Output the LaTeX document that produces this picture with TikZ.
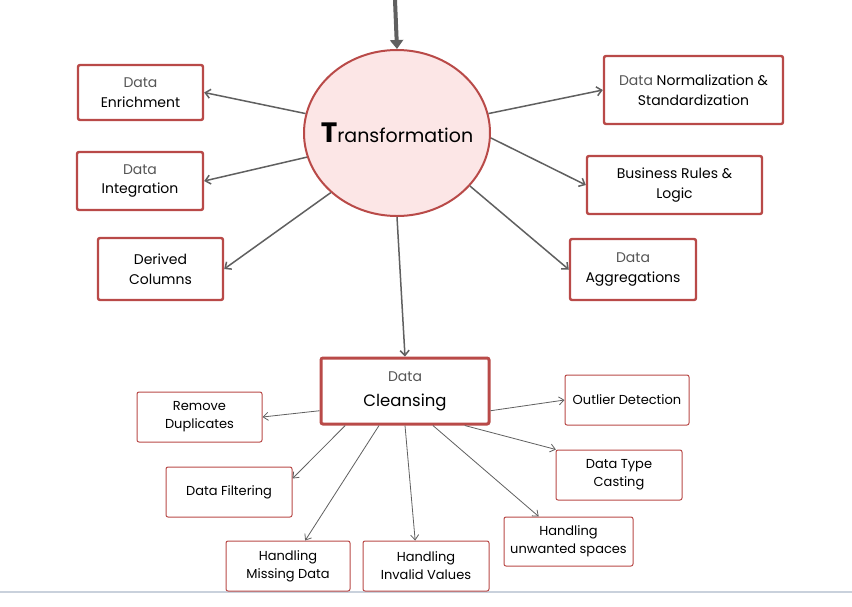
\documentclass[tikz,border=0pt]{standalone}
\usepackage{fontspec}
\setmainfont{Poppins}
\usetikzlibrary{arrows.meta,shapes.geometric}
\definecolor{boxred}{HTML}{B94A48}
\definecolor{arrgray}{HTML}{606060}
\definecolor{datagray}{HTML}{555555}
\definecolor{circfill}{HTML}{FCE6E6}
\definecolor{lineblue}{HTML}{C9D1DC}
\newcommand{\lightdata}[1]{{\color{datagray}#1}}
\tikzset{
  bigbox/.style={draw=boxred, line width=2.4pt, rounded corners=2pt, fill=white, align=center, inner sep=0pt, text=black, font=\fontsize{14}{19.5}\selectfont},
  smallbox/.style={draw=boxred, line width=1pt, rounded corners=2pt, fill=white, align=center, inner sep=0pt, text=black, font=\fontsize{13}{18}\selectfont},
  conn/.style={draw=arrgray, line width=1.5pt, -{Straight Barb[length=5pt,width=9pt]}},
  thinconn/.style={draw=arrgray, line width=0.8pt, -{Straight Barb[length=5pt,width=8pt]}},
}
\begin{document}
\begin{tikzpicture}[x=1pt,y=-1pt]
\useasboundingbox (0,0) rectangle (852,606);
\fill[white] (0,0) rectangle (852,606);
\draw[draw=lineblue, line width=1.5pt] (0,592) -- (852,592);

% central circle
\node[ellipse, draw=boxred, line width=2pt, fill=circfill, minimum width=186pt, minimum height=166pt, inner sep=0pt] (circ) at (397,133) {};
\node[inner sep=0pt, text=black] (circtext) at (circ.center)
  {\fontsize{19}{22}\selectfont{\fontsize{28}{28}\selectfont\bfseries T}ransformation};
\coordinate (top) at (395,0);
\draw[draw=arrgray, line width=4pt, -{Triangle[length=9pt,width=13pt]}] (top) -- (circ.north);

% left boxes
\node[bigbox, minimum width=125pt, minimum height=55pt] (enrich) at (140.5,92.5) {\lightdata{Data}\\Enrichment};
\node[bigbox, minimum width=126pt, minimum height=58pt] (integ) at (140,181) {\lightdata{Data}\\Integration};
\node[bigbox, minimum width=125pt, minimum height=62pt] (derived) at (160.5,269) {Derived\\Columns};

% right boxes
\node[bigbox, minimum width=179pt, minimum height=68pt] (norm) at (693.5,90) {\lightdata{Data} Normalization \&\\Standardization};
\node[bigbox, minimum width=175pt, minimum height=58pt] (business) at (674.5,185) {Business Rules \&\\Logic};
\node[bigbox, minimum width=126pt, minimum height=61pt] (agg) at (633,269.5) {\lightdata{Data}\\Aggregations};

% cleansing
\node[bigbox, line width=3pt, minimum width=168pt, minimum height=66pt, font=\fontsize{14}{25}\selectfont] (clean) at (405,391) {\lightdata{Data}\\{\fontsize{16.5}{20}\selectfont Cleansing}};

% small boxes
\node[smallbox, minimum width=125pt, minimum height=50pt] (dup) at (199.5,417) {Remove\\Duplicates};
\node[smallbox, minimum width=126pt, minimum height=50pt] (filter) at (229,492) {Data Filtering};
\node[smallbox, minimum width=124pt, minimum height=50pt] (missing) at (288,566) {Handling\\Missing Data};
\node[smallbox, minimum width=126pt, minimum height=50pt] (invalid) at (426,566) {Handling\\Invalid Values};
\node[smallbox, minimum width=129pt, minimum height=49pt] (spaces) at (568.5,541.5) {Handling\\unwanted spaces};
\node[smallbox, minimum width=126pt, minimum height=50pt] (casting) at (619,475) {Data Type\\Casting};
\node[smallbox, minimum width=124pt, minimum height=50pt] (outlier) at (627,400) {Outlier Detection};

% connectors from circle
\draw[conn] (circ.168) -- (enrich.east);
\draw[conn] (circ.195) -- (integ.east);
\draw[conn] (circ.222) -- (derived.east);
\draw[conn] (circ.12) -- (norm.west);
\draw[conn] (circ.-3) -- (business.west);
\draw[conn] (circ.-36) -- (agg.west);
\draw[conn] (circ.south) -- (clean.north);

% connectors from cleansing
\draw[thinconn] (clean.193) -- (dup.east);
\draw[thinconn] (clean.210) -- (filter.12);
\draw[thinconn] (clean.233) -- (missing.56);
\draw[thinconn] (clean.south) -- (invalid.113);
\draw[thinconn] (clean.-51) -- (spaces.140);
\draw[thinconn] (clean.-30) -- (casting.158);
\draw[thinconn] (clean.-13) -- (outlier.west);
\end{tikzpicture}
\end{document}
